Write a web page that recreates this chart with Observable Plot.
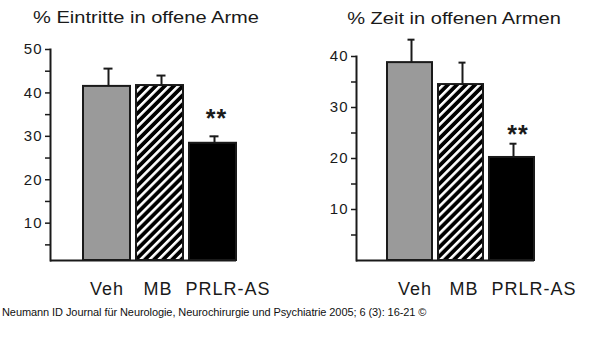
<!DOCTYPE html>
<html><head><meta charset="utf-8">
<script src="https://cdn.jsdelivr.net/npm/d3@7"></script>
<script src="https://cdn.jsdelivr.net/npm/@observablehq/plot@0.6"></script>
<style>
body{margin:0;background:#fff;font-family:Arial,"Liberation Sans",sans-serif;}
#wrap{position:relative;width:600px;height:364px;overflow:hidden;background:#fff;}
.panel{position:absolute;top:0;}
.title{position:absolute;font-size:17px;line-height:17px;white-space:nowrap;color:#1a1a1a;transform:translateX(-50%) scaleX(1.18);}
.caption{position:absolute;left:2px;top:307px;font-size:11px;line-height:11px;white-space:nowrap;color:#111;letter-spacing:-0.08px;}
</style>
</head><body>
<div id="wrap">
  <div class="panel" id="left" style="left:0px"></div>
  <div class="panel" id="right" style="left:300px"></div>
  <div class="title" style="left:146px;top:9px">% Eintritte in offene Arme</div>
  <div class="title" style="left:454px;top:10px">% Zeit in offenen Armen</div>
  <div class="caption">Neumann ID Journal für Neurologie, Neurochirurgie und Psychiatrie 2005; 6 (3): 16-21 ©</div>
</div>
<script>
// ---- data ----
const groups = ["Veh", "MB", "PRLR-AS"];
const entriesMean = [41.5, 41.7, 28.4];
const entriesSem = [4.1, 2.3, 1.6];
const timeMean = [38.8, 34.5, 20.2];
const timeSem = [4.5, 4.3, 2.7];
const entriesTicks = [10, 20, 30, 40, 50];
const entriesMinorTicks = [5, 15, 25, 35, 45];
const timeTicks = [10, 20, 30, 40];
const timeMinorTicks = [5, 15, 25, 35];
const significance = ["", "", "**"];
const entriesStarY = 34.1;
const timeStarY = 24.7;

const ink = "#1a1a1a";

function makeDefs(id) {
  return () => {
    const defs = d3.create("svg:defs");
    const p = defs.append("pattern")
      .attr("id", id)
      .attr("patternUnits", "userSpaceOnUse")
      .attr("width", 6.4).attr("height", 6.4)
      .attr("patternTransform", "rotate(45)");
    p.append("rect").attr("width", 6.4).attr("height", 6.4).attr("fill", "#000");
    p.append("rect").attr("x", 0).attr("width", 2.6).attr("height", 6.4).attr("fill", "#fff");
    return defs.node();
  };
}

function panel({means, sems, ticks, minor, yDomain, marginTop, marginLeft, marginRight, xRange, starY, starDx, labelDx, patternId}) {
  const data = groups.map((g, i) => ({group: g, mean: means[i], sem: sems[i], sig: significance[i]}));
  const fills = ["#9a9a9a", `url(#${patternId})`, "#000"];
  const bars = groups.map((g, i) => Plot.barY(data.filter(d => d.group === g), {
    x: "group", y1: yDomain[0], y2: "mean", fill: fills[i], stroke: ink, strokeWidth: 2
  }));
  const labels = groups.map((g, i) => Plot.text([g], {
    x: d => d, frameAnchor: "bottom", dy: 29, dx: labelDx[i], text: d => d,
    fontSize: 18, fill: ink, lineAnchor: "middle"
  }));
  return Plot.plot({
    width: 300, height: 300,
    marginTop, marginBottom: 40, marginLeft, marginRight,
    style: {fontFamily: "Arial, 'Liberation Sans', sans-serif", color: ink, background: "transparent", letterSpacing: "1px"},
    x: {domain: groups, range: xRange, paddingInner: 0.12, paddingOuter: 0.02, axis: null},
    y: {domain: yDomain},
    marks: [
      makeDefs(patternId),
      ...bars,
      Plot.ruleX(data, {x: "group", y1: "mean", y2: d => d.mean + d.sem, dx: 1.5, stroke: ink, strokeWidth: 2}),
      Plot.tickY(data, {x: "group", y: d => d.mean + d.sem, dx: 1.5, inset: 19, stroke: ink, strokeWidth: 2}),
      Plot.text(data.filter(d => d.sig), {x: "group", y: () => starY, text: "sig", dx: starDx, fontSize: 25, fontWeight: "bold", fill: ink, lineAnchor: "middle"}),
      Plot.axisY({ticks, tickSize: 5, tickPadding: 3, fontSize: 15, label: null, stroke: ink, strokeWidth: 1.5}),
      Plot.axisY({ticks: minor, tickSize: 5, tickFormat: () => "", label: null, stroke: ink, strokeWidth: 1.5}),
      Plot.frame({anchor: "left", stroke: ink, strokeWidth: 2}),
      Plot.ruleY([yDomain[0]], {stroke: ink, strokeWidth: 2}),
      ...labels
    ]
  });
}

document.getElementById("left").append(panel({
  means: entriesMean, sems: entriesSem, ticks: entriesTicks, minor: entriesMinorTicks,
  yDomain: [1.4, 50], marginTop: 49, marginLeft: 50, marginRight: 64,
  xRange: [82, 236.8], starY: entriesStarY, starDx: 3.5, labelDx: [0, -2, 15], patternId: "hatchL"
}));
document.getElementById("right").append(panel({
  means: timeMean, sems: timeSem, ticks: timeTicks, minor: timeMinorTicks,
  yDomain: [0, 40], marginTop: 56, marginLeft: 56, marginRight: 66,
  xRange: [86, 235], starY: timeStarY, starDx: 6, labelDx: [5, 3, 22], patternId: "hatchR"
}));
</script>
</body></html>
